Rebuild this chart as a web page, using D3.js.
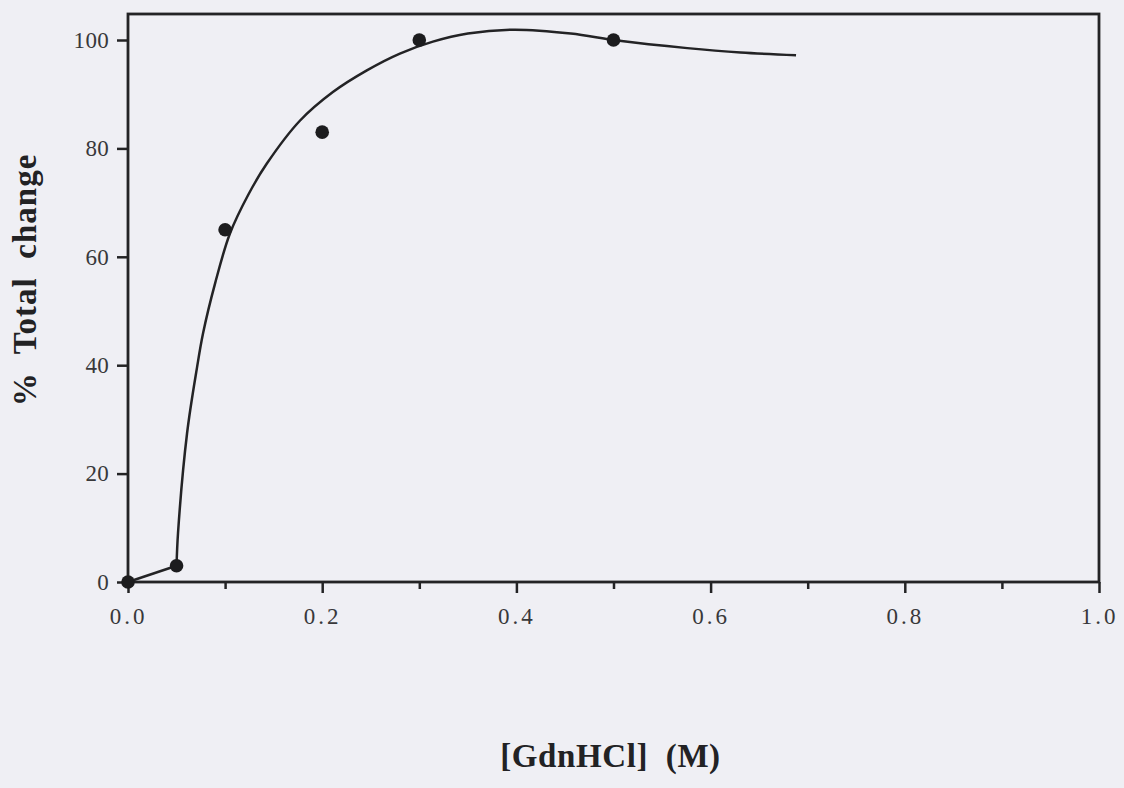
<!DOCTYPE html>
<html>
<head>
<meta charset="utf-8">
<script src="https://cdn.jsdelivr.net/npm/d3@7"></script>
<style>
  html, body { margin: 0; padding: 0; background: #efeff4; }
  svg { display: block; }
</style>
</head>
<body>
<svg id="chart" width="1124" height="788"></svg>
<script>
// Measured points: denaturant concentration (M) vs. % of total change
const concM = [0.0, 0.05, 0.10, 0.20, 0.30, 0.50];
const pctChange = [0, 3, 65, 83, 100, 100];

// Fitted curve: straight onset up to 0.05 M, then a smooth rise and plateau
const fitX = [0.0, 0.05, 0.0515, 0.0608, 0.0711, 0.0773, 0.0897, 0.105, 0.124, 0.143,
              0.177, 0.211, 0.246, 0.280, 0.314, 0.350, 0.397, 0.456, 0.504, 0.576, 0.631, 0.688];
const fitY = [0.0, 3.0, 9.0, 27.4, 39.6, 45.9, 55.1, 64.3, 71.5, 77.2,
              85.1, 90.4, 94.4, 97.5, 99.7, 101.2, 101.9, 101.2, 99.9, 98.5, 97.7, 97.2];

// Axis ticks
const xTicks = [0.0, 0.2, 0.4, 0.6, 0.8, 1.0];
const xMinorTicks = [0.1, 0.3, 0.5, 0.7, 0.9];
const yTicks = [0, 20, 40, 60, 80, 100];

const xTitle = "[GdnHCl]  (M)";
const yTitle = "%  Total  change";

const svg = d3.select("#chart");
const W = 1124, H = 788;
const plotL = 128, plotR = 1099, plotT = 14, plotB = 582;

const x = d3.scaleLinear().domain([0, 1]).range([plotL, plotR]);
const y = d3.scaleLinear().domain([0, 100]).range([plotB, 40]);

const ink = "#232325";
const serif = "'Liberation Serif', 'Times New Roman', serif";

svg.append("rect").attr("width", W).attr("height", H).attr("fill", "#efeff4");

// Plot frame
svg.append("rect")
  .attr("x", plotL).attr("y", plotT)
  .attr("width", plotR - plotL).attr("height", plotB - plotT)
  .attr("fill", "none").attr("stroke", ink).attr("stroke-width", 2.8);

// X axis: labelled ticks every 0.2, short unlabelled ticks between
const xAxis = d3.axisBottom(x).tickValues(xTicks).tickSize(11)
  .tickFormat(d3.format(".1f")).tickPadding(15);
const gx = svg.append("g").attr("transform", `translate(0,${plotB})`).call(xAxis);
gx.select(".domain").remove();
gx.selectAll(".tick line").attr("stroke", ink).attr("stroke-width", 2.5);
gx.selectAll(".tick text")
  .attr("fill", "#38383a")
  .attr("font-family", serif)
  .attr("font-size", 23).attr("letter-spacing", 3)
  .attr("dy", "0.71em");

const gxm = svg.append("g").attr("transform", `translate(0,${plotB})`)
  .call(d3.axisBottom(x).tickValues(xMinorTicks).tickSize(7).tickFormat(""));
gxm.select(".domain").remove();
gxm.selectAll(".tick line").attr("stroke", ink).attr("stroke-width", 2.5);

// Y axis
const yAxis = d3.axisLeft(y).tickValues(yTicks).tickSize(11).tickPadding(8);
const gy = svg.append("g").attr("transform", `translate(${plotL},0)`).call(yAxis);
gy.select(".domain").remove();
gy.selectAll(".tick line").attr("stroke", ink).attr("stroke-width", 2.5);
gy.selectAll(".tick text")
  .attr("fill", "#38383a")
  .attr("font-family", serif)
  .attr("font-size", 23).attr("letter-spacing", 0.3);

// Fitted curve: linear onset, smooth spline afterwards
const fitPts = fitX.map((v, i) => [v, fitY[i]]);
const lineLin = d3.line().x(d => x(d[0])).y(d => y(d[1]));
const lineSmooth = d3.line().x(d => x(d[0])).y(d => y(d[1])).curve(d3.curveCatmullRom.alpha(0.5));
svg.append("path")
  .datum(fitPts.slice(0, 2))
  .attr("fill", "none").attr("stroke", ink).attr("stroke-width", 2.5)
  .attr("d", lineLin);
svg.append("path")
  .datum(fitPts.slice(1))
  .attr("fill", "none").attr("stroke", ink).attr("stroke-width", 2.5)
  .attr("stroke-linejoin", "round")
  .attr("d", lineSmooth);

// Data markers
svg.append("g").selectAll("circle")
  .data(concM.map((v, i) => [v, pctChange[i]]))
  .join("circle")
  .attr("cx", d => x(d[0])).attr("cy", d => y(d[1]))
  .attr("r", 6.8).attr("fill", "#1c1c1e");

// Axis titles
svg.append("text")
  .attr("x", (plotL + plotR) / 2 - 3).attr("y", 767)
  .attr("text-anchor", "middle")
  .attr("font-family", serif)
  .attr("font-weight", "bold").attr("font-size", 33)
  .attr("letter-spacing", 0.6)
  .attr("fill", "#222224")
  .style("white-space", "pre")
  .text(xTitle);

svg.append("text")
  .attr("transform", `translate(36,280) rotate(-90)`)
  .attr("text-anchor", "middle")
  .attr("font-family", serif)
  .attr("font-weight", "bold").attr("font-size", 33)
  .attr("letter-spacing", 1)
  .attr("fill", "#222224")
  .style("white-space", "pre")
  .text(yTitle);
</script>
</body>
</html>
